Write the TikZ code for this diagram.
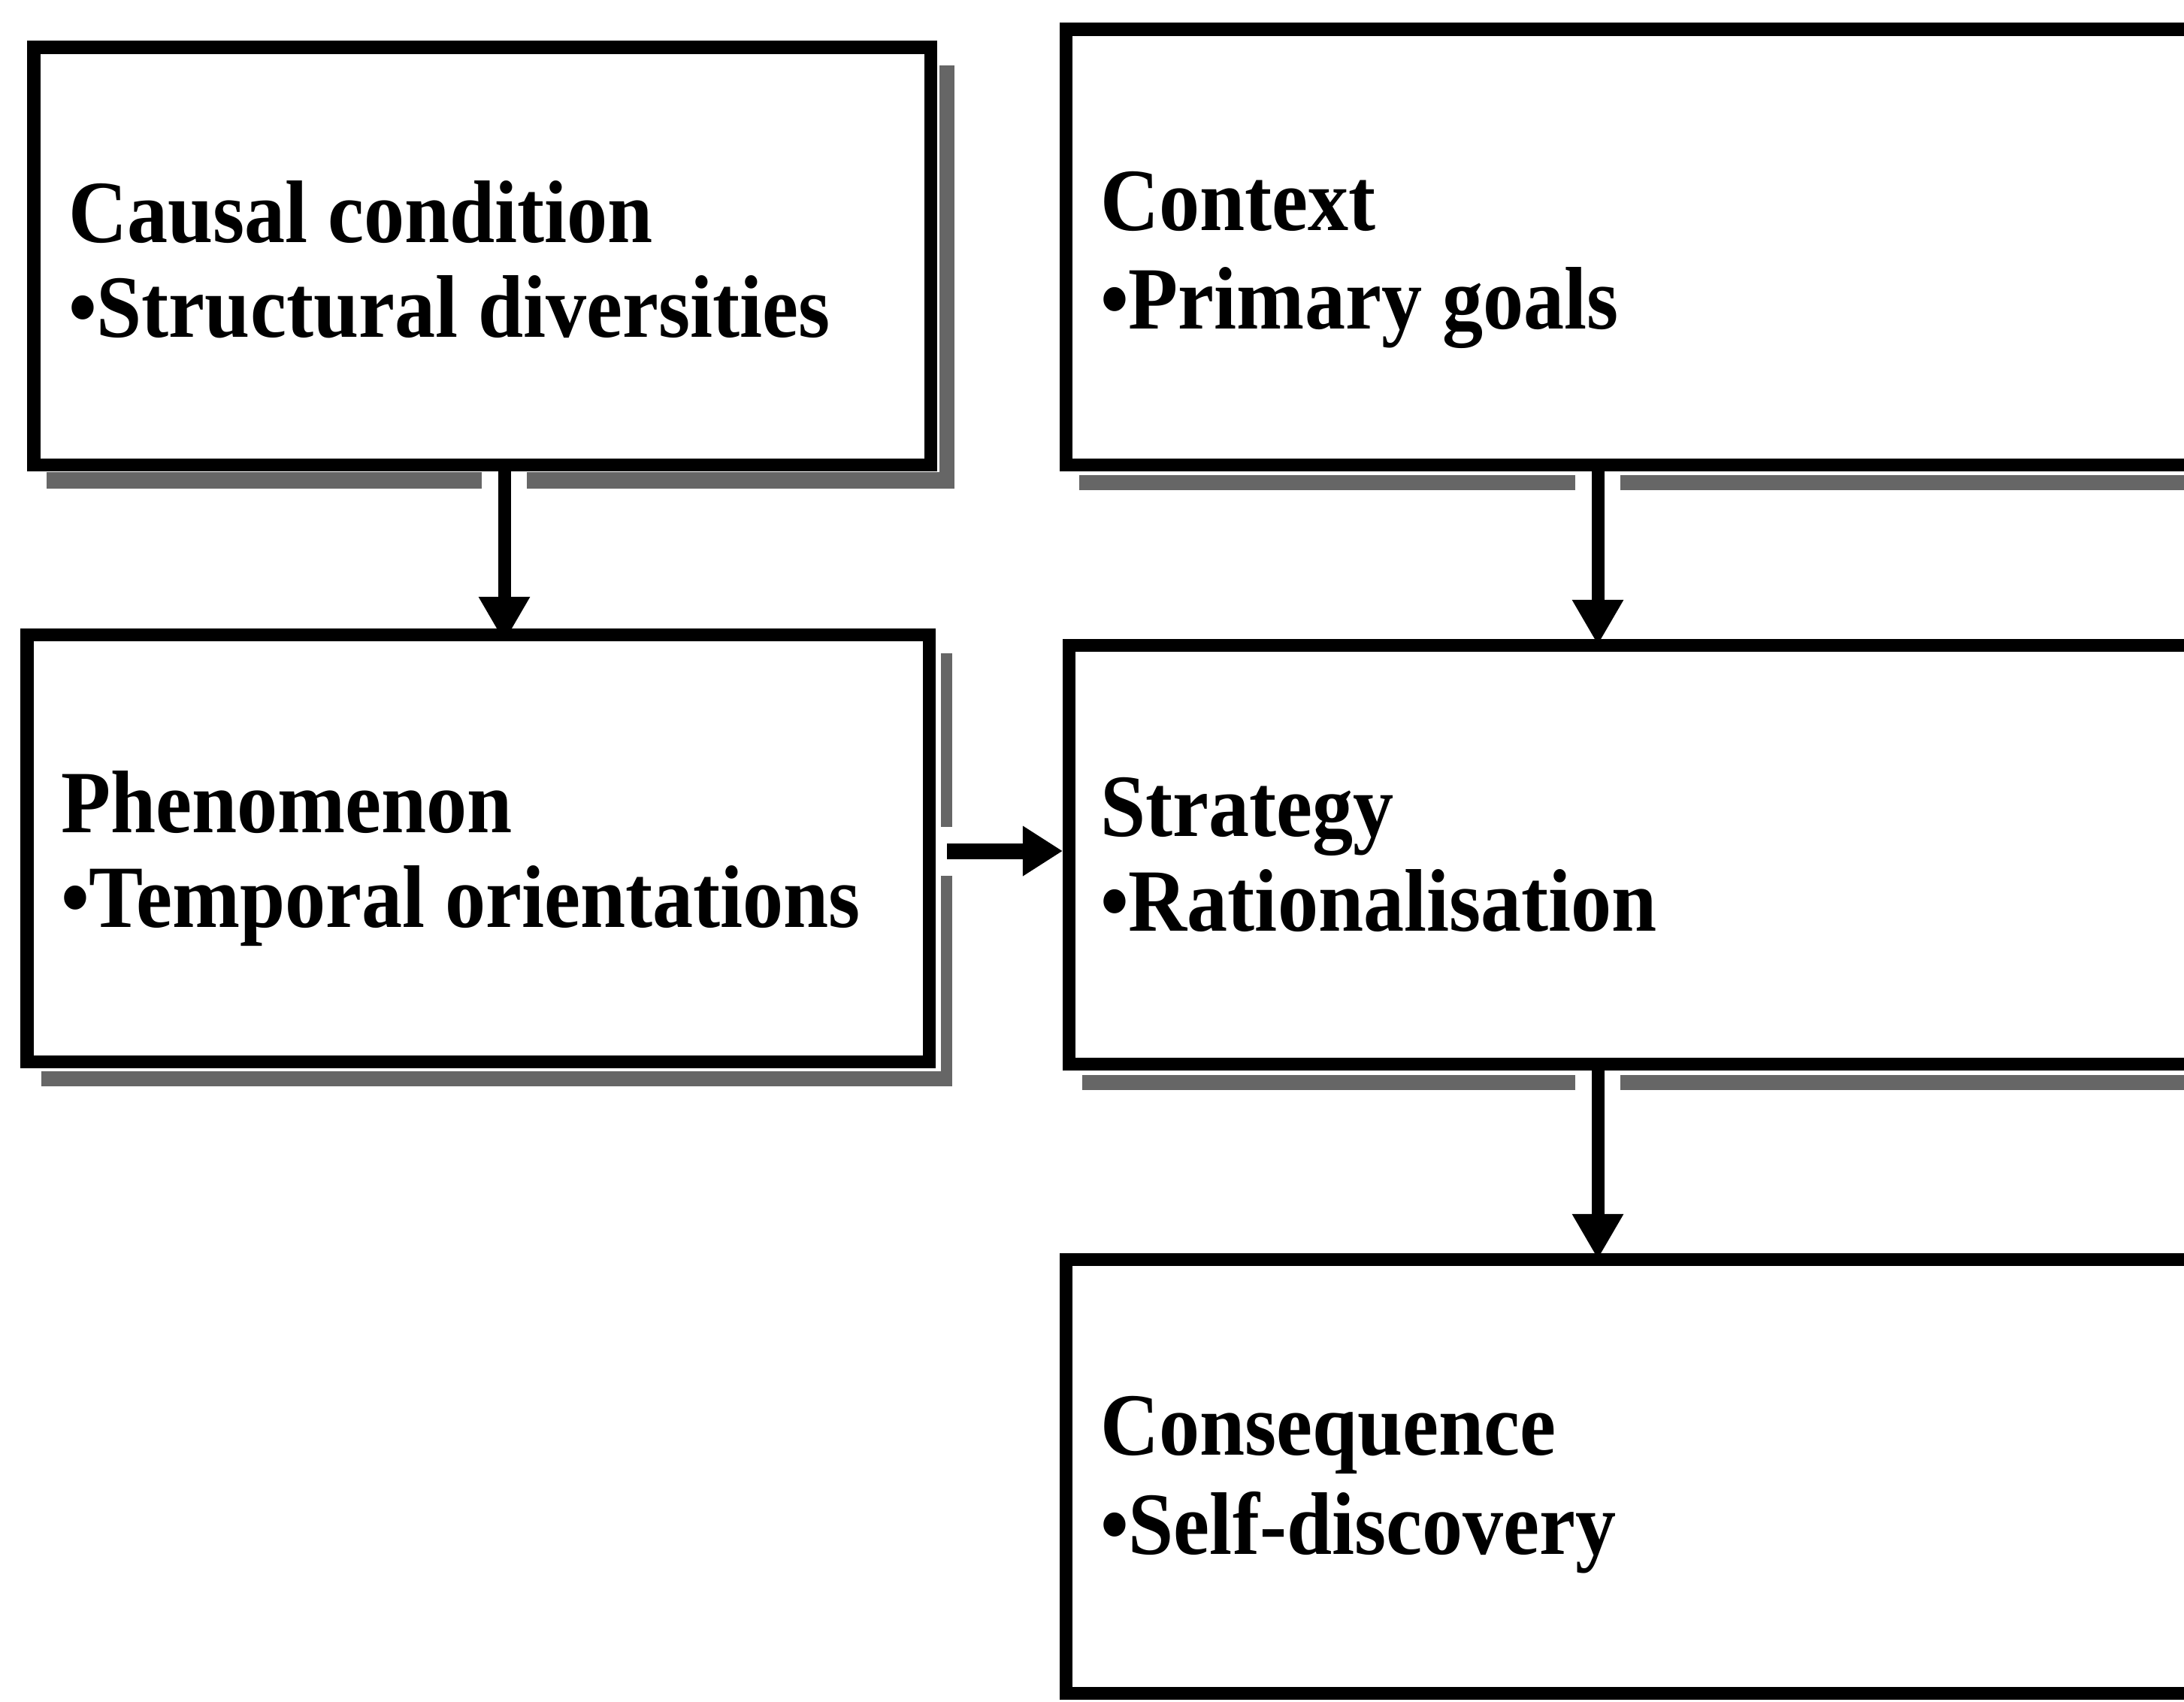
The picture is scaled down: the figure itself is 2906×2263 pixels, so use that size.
\documentclass[tikz,border=0pt]{standalone}
\usepackage{fontspec}
\setmainfont{Liberation Serif}[FakeStretch=0.915]
\usetikzlibrary{arrows.meta,fit}
\begin{document}
\begin{tikzpicture}[x=0.01cm,y=-0.01cm,
  box/.style={draw=black, line width=0.17cm, inner sep=0pt, outer sep=0pt},
  shadowband/.style={fill=black!60, draw=none},
  gap/.style={draw=white, line width=0.6cm},
  arr/.style={draw=black, line width=0.17cm, -{Triangle[width=0.64cm,length=0.6cm]}},
  arrh/.style={draw=black, line width=0.21cm, -{Triangle[width=0.63cm,length=0.53cm]}},
  lbl/.style={anchor=base west, inner sep=0pt, outer sep=0pt,
              font=\fontsize{33.6pt}{40pt}\selectfont\bfseries}]
\useasboundingbox (0,0) rectangle (2906,2263);
\clip (0,0) rectangle (2906,2263);

% corner points of the five boxes (border centre lines)
\coordinate (b1nw) at (45,63);    \coordinate (b1se) at (1238,618);
\coordinate (b2nw) at (1418,39);  \coordinate (b2se) at (2935,618);
\coordinate (b3nw) at (36,844);   \coordinate (b3se) at (1236,1412);
\coordinate (b4nw) at (1422,858); \coordinate (b4se) at (2935,1415);
\coordinate (b5nw) at (1418,1675);\coordinate (b5se) at (2935,2252);

% x positions of the vertical connectors, start of the horizontal one
\coordinate (xa) at (671,0);
\coordinate (xb) at (2126,0);
\coordinate (hs) at (1260,1132);

% drop shadows
\fill[shadowband] (62,628) rectangle (1270,650);
\fill[shadowband] (1250,87) rectangle (1270,650);
\fill[shadowband] (1436,632) rectangle (2906,652);
\fill[shadowband] (55,1425) rectangle (1267,1445);
\fill[shadowband] (1252,869) rectangle (1267,1445);
\fill[shadowband] (1440,1430) rectangle (2906,1450);

% white breaks in the shadows where connectors pass
\draw[gap] (b1se -| xa) -- ([yshift=-0.45cm]b1se -| xa);
\draw[gap] (b2se -| xb) -- ([yshift=-0.45cm]b2se -| xb);
\draw[gap] (b4se -| xb) -- ([yshift=-0.45cm]b4se -| xb);
\draw[draw=white, line width=0.65cm] (b3se |- hs) -- ([xshift=0.45cm]b3se |- hs);

% boxes
\node[box, fit=(b1nw)(b1se)] (b1) {};
\node[box, fit=(b2nw)(b2se)] (b2) {};
\node[box, fit=(b3nw)(b3se)] (b3) {};
\node[box, fit=(b4nw)(b4se)] (b4) {};
\node[box, fit=(b5nw)(b5se)] (b5) {};

% connectors
\draw[arr, shorten >=-0.1cm] (b1.south -| xa) -- (b3.north -| xa);
\draw[arr] (b2.south -| xb) -- (b4.north -| xb);
\draw[arr] (b4.south -| xb) -- (b5.north -| xb);
\draw[arrh, shorten >=0.08cm] (hs) -- (b4.west |- hs);

% labels
\node[lbl] (t1a) at (91,322) {Causal condition};
\node[lbl] (t1b) at (91,448) {•Structural diversities};
\node[lbl] (t2a) at (1464,306) {Context};
\node[lbl] (t2b) at (1464,437) {•Primary goals};
\node[lbl] (t3a) at (81,1107) {Phenomenon};
\node[lbl] (t3b) at (81,1233) {•Temporal orientations};
\node[lbl] (t4a) at (1464,1112) {Strategy};
\node[lbl] (t4b) at (1464,1238) {•Rationalisation};
\node[lbl] (t5a) at (1464,1935) {Consequence};
\node[lbl] (t5b) at (1464,2067) {•Self-discovery};
\end{tikzpicture}
\end{document}
